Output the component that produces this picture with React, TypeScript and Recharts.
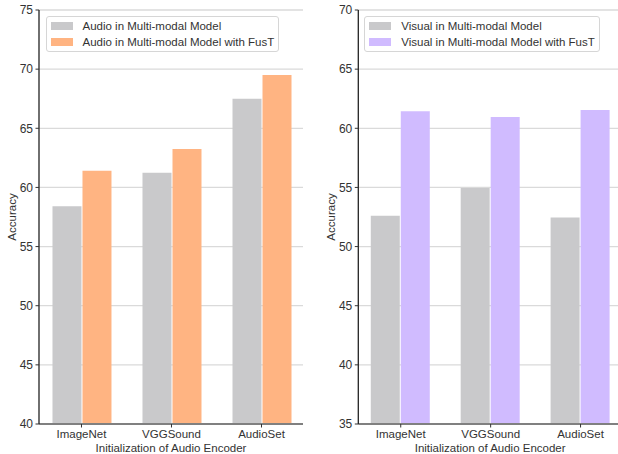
import React from "react";
import {
  BarChart,
  Bar,
  XAxis,
  YAxis,
  CartesianGrid,
  Label,
} from "recharts";

const categories = ["ImageNet", "VGGSound", "AudioSet"];
const audioBase = [58.4, 61.25, 67.5];
const audioFusT = [61.4, 63.25, 69.5];
const visualBase = [52.6, 54.95, 52.45];
const visualFusT = [61.45, 60.95, 61.55];
const audioTicks = [40, 45, 50, 55, 60, 65, 70, 75];
const visualTicks = [35, 40, 45, 50, 55, 60, 65, 70];
const audioNames = ["Audio in Multi-modal Model", "Audio in Multi-modal Model with FusT"];
const visualNames = ["Visual in Multi-modal Model", "Visual in Multi-modal Model with FusT"];

const FONT = "'Liberation Sans', Arial, Helvetica, sans-serif";
const GRAY = "#c9c9cb";
const ORANGE = "#ffb482";
const PURPLE = "#d0bbff";
const TXT = "#333333";

const tickStyle = { fill: TXT, fontSize: 11.5, fontFamily: FONT };
const yTickStyle = { fill: TXT, fontSize: 12, fontFamily: FONT };

function LegendBox({ names, colors, left }: { names: string[]; colors: string[]; left: number }) {
  return (
    <div
      style={{
        position: "absolute",
        left,
        top: 15.5,
        border: "1px solid #d6d6d6",
        borderRadius: 3,
        background: "rgba(255,255,255,0.85)",
        padding: "1px 4px 1px 4px",
        fontFamily: FONT,
        fontSize: 11.5,
        color: TXT,
      }}
    >
      {names.map((n, i) => (
        <div key={n} style={{ display: "flex", alignItems: "center", height: 16, whiteSpace: "nowrap" }}>
          <span style={{ display: "inline-block", width: 22, height: 8, background: colors[i], marginRight: 10 }} />
          <span>{n}</span>
        </div>
      ))}
    </div>
  );
}

function Panel({
  base,
  fust,
  ticks,
  colors,
  width,
  yWidth,
  right,
}: {
  base: number[];
  fust: number[];
  ticks: number[];
  colors: string[];
  width: number;
  yWidth: number;
  right: number;
}) {
  const data = categories.map((c, i) => ({ x: i, name: c, base: base[i], fust: fust[i] }));
  const domain: [number, number] = [-0.472, 2.461];
  const lx = yWidth - 27.5;
  return (
    <BarChart
      width={width}
      height={454}
      data={data}
      margin={{ top: 10, right, bottom: 0, left: 0 }}
      barGap={1}
      barSize={29}
    >
      <CartesianGrid vertical={false} stroke="#dadada" strokeWidth={1.3} />
      <XAxis
        dataKey="x"
        type="number"
        domain={domain}
        ticks={[0, 1, 2]}
        allowDataOverflow
        tickFormatter={(v: number) => categories[v]}
        height={30}
        tick={tickStyle}
        tickSize={3.5}
        tickMargin={2.5}
        axisLine={{ stroke: "#808080", strokeWidth: 2 }}
        tickLine={{ stroke: "#333" }}
      >
        <Label
          content={(p: any) => {
            const vb = p.viewBox || {};
            const cx = (vb.x ?? 0) + (vb.width ?? 0) / 2;
            return (
              <text x={cx} y={452} textAnchor="middle" fill={TXT} fontSize={11.5} fontFamily={FONT}>
                Initialization of Audio Encoder
              </text>
            );
          }}
        />
      </XAxis>
      <XAxis
        xAxisId="top"
        dataKey="x"
        type="number"
        orientation="top"
        domain={domain}
        allowDataOverflow
        height={0}
        tick={false}
        tickLine={false}
        axisLine={{ stroke: "#666", strokeWidth: 2 }}
      />
      <YAxis
        domain={[ticks[0], ticks[ticks.length - 1]]}
        ticks={ticks}
        interval={0}
        width={yWidth}
        tick={yTickStyle}
        tickSize={3.5}
        tickMargin={2.5}
        axisLine={{ stroke: "#222", strokeWidth: 1.3 }}
        tickLine={{ stroke: "#333" }}
      >
        <Label
          content={() => (
            <text
              x={lx}
              y={217}
              transform={`rotate(-90 ${lx} 217)`}
              textAnchor="middle"
              dominantBaseline="central"
              fill={TXT}
              fontSize={11.5}
              fontFamily={FONT}
            >
              Accuracy
            </text>
          )}
        />
      </YAxis>
      <YAxis
        yAxisId="r"
        orientation="right"
        domain={[ticks[0], ticks[ticks.length - 1]]}
        width={0}
        tick={false}
        tickLine={false}
        axisLine={{ stroke: "#666", strokeWidth: 1.6 }}
      />
      <Bar dataKey="base" fill={colors[0]} isAnimationActive={false} />
      <Bar dataKey="fust" fill={colors[1]} isAnimationActive={false} />
    </BarChart>
  );
}

export default function App() {
  return (
    <div
      style={{
        position: "absolute",
        left: 0,
        top: 0,
        width: 618,
        height: 454,
        overflow: "hidden",
        background: "#fff",
      }}
    >
      <div style={{ position: "absolute", left: 0, top: 0 }}>
        <Panel base={audioBase} fust={audioFusT} ticks={audioTicks} colors={[GRAY, ORANGE]} width={310} yWidth={39} right={7} />
      </div>
      <div style={{ position: "absolute", left: 310, top: 0 }}>
        <Panel base={visualBase} fust={visualFusT} ticks={visualTicks} colors={[GRAY, PURPLE]} width={313} yWidth={48.3} right={1} />
      </div>
      <LegendBox names={audioNames} colors={[GRAY, ORANGE]} left={45.5} />
      <LegendBox names={visualNames} colors={[GRAY, PURPLE]} left={364.3} />
    </div>
  );
}
